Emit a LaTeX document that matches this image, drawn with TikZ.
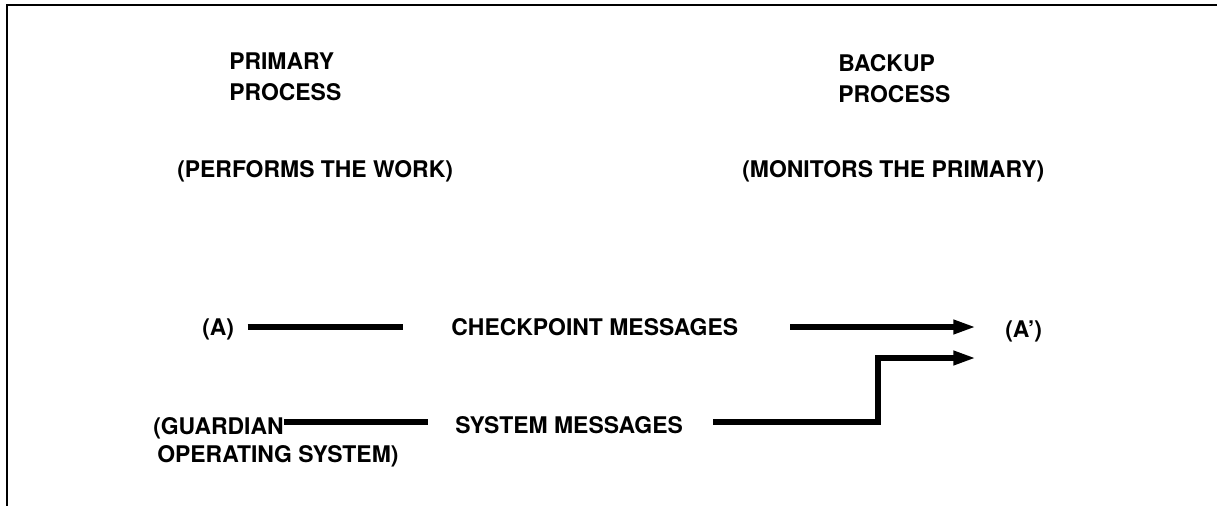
\documentclass[tikz,border=0pt]{standalone}
\usepackage{fontspec}
\setmainfont{TeX Gyre Heros}
\usetikzlibrary{arrows.meta}
\begin{document}
\begin{tikzpicture}[x=0.75pt,y=-0.75pt,
  lbl/.style={anchor=west,inner sep=0pt,
    font=\bfseries\fontsize{17.2pt}{20pt}\selectfont,
    text height=12.3pt,text depth=0pt},
  wire/.style={line width=4.2pt,line join=miter},
  flow/.style={wire,-{Triangle[length=17pt,width=10pt]}},
  frame/.style={line width=1.5pt,line join=miter}]
\useasboundingbox (0,0) rectangle (1217,506);

% open frame: top edge and left edge
\draw[frame] (7,506) -- (7,5) -- (1217,5);

% headings
\node[lbl] (prim1) at (229,61) {PRIMARY};
\node[lbl] (prim2) at (229,92) {PROCESS};
\node[lbl] (primnote) at (177,169) {(PERFORMS THE WORK)};
\node[lbl] (back1) at (838,63) {BACKUP};
\node[lbl] (back2) at (838,94) {PROCESS};
\node[lbl] (backnote) at (742,169) {(MONITORS THE PRIMARY)};

% message endpoints and labels
\node[lbl] (A) at (202,327) {(A)};
\node[lbl] (ck) at (451,327) {CHECKPOINT MESSAGES};
\node[lbl] (Ap) at (1005,329) {(A’)};
\node[lbl] (g1) at (153,426) {(GUARDIAN};
\node[lbl] (g2) at (157,454) {OPERATING SYSTEM)};
\node[lbl] (sys) at (455,425) {SYSTEM MESSAGES};

% line ends and bends
\coordinate (ckin) at (403,327);
\coordinate (ckout) at (790,327);
\coordinate (ckend) at (976,327);
\coordinate (gend) at (428,422);
\coordinate (sysout) at (713,422);
\coordinate (bend) at (878,422);
\coordinate (sysend) at (976,358);

% checkpoint messages from (A) to (A')
\draw[wire,shorten <=10pt] (A.east |- ckin) -- (ckin);
\draw[flow] (ckout) -- (ckend);

% system messages from the operating system
\draw[wire] (g1.east |- gend) -- (gend);
\draw[flow] (sysout) -- (bend) |- (sysend);
\end{tikzpicture}
\end{document}
